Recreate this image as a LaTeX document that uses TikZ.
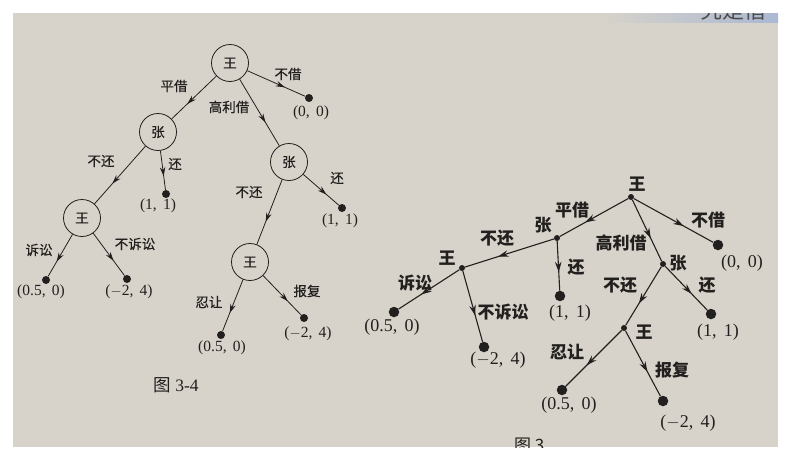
\documentclass[tikz,border=0pt]{standalone}
\usepackage{fontspec}
\setmainfont{Liberation Serif}
\newfontfamily\cjk{Noto Sans CJK SC}
\newfontfamily\cjkm[FakeBold=0.4]{Noto Sans CJK SC}
\usetikzlibrary{arrows.meta,decorations.markings}

\definecolor{paper}{RGB}{216,211,202}
\definecolor{ink}{RGB}{34,32,31}
\definecolor{band}{RGB}{170,184,210}

\newcommand{\sep}{,\hspace{0.4em}}

\begin{document}
\begin{tikzpicture}[x=1pt,y=-1pt,
	player/.style={circle, draw=ink, line width=0.8pt, minimum size=37pt, inner sep=0pt, text=ink, font=\cjkm\fontsize{13.5}{13.5}\selectfont},
	leaf/.style={circle, fill=ink, minimum size=8pt, inner sep=0pt},
	bigleaf/.style={circle, fill=ink, minimum size=10.5pt, inner sep=0pt},
	knot/.style={circle, fill=ink, minimum size=6pt, inner sep=0pt},
	act/.style={text=ink, inner sep=0pt, font=\cjkm\fontsize{13.5}{13.5}\selectfont},
	bigact/.style={text=ink, inner sep=0pt, font=\cjk\bfseries\fontsize{17}{17}\selectfont},
	pay/.style={text=ink, inner sep=0pt, font=\fontsize{15.5}{15.5}\selectfont},
	bigpay/.style={text=ink, inner sep=0pt, font=\fontsize{18}{18}\selectfont},
	choice/.style={draw=ink, line width=0.8pt, postaction={decorate},
		decoration={markings, mark=at position 0.65 with {\arrow[ink]{Stealth[length=9pt,width=5.5pt]}}}},
	bigchoice/.style={draw=ink, line width=1.1pt, postaction={decorate},
		decoration={markings, mark=at position 0.63 with {\arrow[ink]{Stealth[length=10.5pt,width=6.5pt]}}}}
]
	\useasboundingbox (0,0) rectangle (787,469);
	\fill[white] (0,0) rectangle (787,469);
	\fill[paper] (13,13) rectangle (778,447);
	\shade[left color=paper, right color=band] (600,13) rectangle (778,22);
	\begin{scope}
		\clip (13,13) rectangle (778,447);
		\node[anchor=south west, text=ink!80, inner sep=0pt, font=\cjk\fontsize{22}{22}\selectfont] (top) at (700,21) {究是借};
		\node[anchor=north west, text=ink, inner sep=0pt, font=\cjk\fontsize{17}{17}\selectfont] (cap2) at (514,438) {图 3};
	\end{scope}

	% figure 3-4
	\node[player] (w1) at (230,63) {王};
	\node[player] (z1) at (158,132) {张};
	\node[player] (z2) at (289,162) {张};
	\node[player] (w2) at (82,218) {王};
	\node[player] (w3) at (250,262) {王};

	\node[leaf] (t1) at (309,98) {};
	\node[leaf] (t2) at (166,194) {};
	\node[leaf] (t3) at (342,208) {};
	\node[leaf] (t4) at (46,280) {};
	\node[leaf] (t5) at (127,279) {};
	\node[leaf] (t6) at (221,335) {};
	\node[leaf] (t7) at (304,318) {};

	\draw[choice] (w1) -- (z1);
	\draw[choice] (w1) -- (z2);
	\draw[choice] (w1) -- (t1);
	\draw[choice] (z1) -- (w2);
	\draw[choice] (z1) -- (t2);
	\draw[choice] (z2) -- (w3);
	\draw[choice] (z2) -- (t3);
	\draw[choice] (w2) -- (t4);
	\draw[choice] (w2) -- (t5);
	\draw[choice] (w3) -- (t6);
	\draw[choice] (w3) -- (t7);

	\node[act] (a1) at (174,86) {平借};
	\node[act] (a2) at (229,107) {高利借};
	\node[act] (a3) at (288,74) {不借};
	\node[act] (a4) at (101,161) {不还};
	\node[act] (a5) at (175,164) {还};
	\node[act] (a6) at (249,192) {不还};
	\node[act] (a7) at (337,178) {还};
	\node[act] (a8) at (39,250) {诉讼};
	\node[act] (a9) at (135,244) {不诉讼};
	\node[act] (a10) at (209,302) {忍让};
	\node[act] (a11) at (307,291) {报复};

	\node[pay] (p1) at (311,113) {(0\sep 0)};
	\node[pay] (p2) at (158,206) {(1\sep 1)};
	\node[pay] (p3) at (340,221) {(1\sep 1)};
	\node[pay] (p4) at (41,292) {(0.5\sep 0)};
	\node[pay] (p5) at (129,292) {($-$2\sep 4)};
	\node[pay] (p6) at (222,348) {(0.5\sep 0)};
	\node[pay] (p7) at (308,334) {($-$2\sep 4)};

	\node[text=ink, font=\fontsize{17.5}{17.5}\selectfont] (cap1) at (176,385) {{\cjk 图} 3-4};

	% figure 3-5
	\node[knot] (W1) at (631,197) {};
	\node[knot] (Z1) at (557,238) {};
	\node[knot] (Z2) at (663,264) {};
	\node[knot] (W2) at (462,268) {};
	\node[knot] (W3) at (624,328) {};

	\node[bigleaf] (T1) at (718,245) {};
	\node[bigleaf] (T2) at (560,296) {};
	\node[bigleaf] (T3) at (711,314) {};
	\node[bigleaf] (T4) at (394,312) {};
	\node[bigleaf] (T5) at (484,347) {};
	\node[bigleaf] (T6) at (562,390) {};
	\node[bigleaf] (T7) at (663,401) {};

	\draw[bigchoice] (W1) -- (Z1);
	\draw[bigchoice] (W1) -- (Z2);
	\draw[bigchoice] (W1) -- (T1);
	\draw[bigchoice] (Z1) -- (W2);
	\draw[bigchoice] (Z1) -- (T2);
	\draw[bigchoice] (Z2) -- (W3);
	\draw[bigchoice] (Z2) -- (T3);
	\draw[bigchoice] (W2) -- (T4);
	\draw[bigchoice] (W2) -- (T5);
	\draw[bigchoice] (W3) -- (T6);
	\draw[bigchoice] (W3) -- (T7);

	\node[bigact] (n1) at (637,184) {王};
	\node[bigact] (n2) at (543,225) {张};
	\node[bigact] (n3) at (678,263) {张};
	\node[bigact] (n4) at (447,258) {王};
	\node[bigact] (n5) at (644,332) {王};

	\node[bigact] (b1) at (572,210) {平借};
	\node[bigact] (b2) at (621,243) {高利借};
	\node[bigact] (b3) at (708,220) {不借};
	\node[bigact] (b4) at (497,238) {不还};
	\node[bigact] (b5) at (576,267) {还};
	\node[bigact] (b6) at (620,285) {不还};
	\node[bigact] (b7) at (707,285) {还};
	\node[bigact] (b8) at (415,283) {诉讼};
	\node[bigact] (b9) at (503,312) {不诉讼};
	\node[bigact] (b10) at (567,352) {忍让};
	\node[bigact] (b11) at (672,370) {报复};

	\node[bigpay] (q1) at (742,263) {(0\sep 0)};
	\node[bigpay] (q2) at (570,313) {(1\sep 1)};
	\node[bigpay] (q3) at (718,332) {(1\sep 1)};
	\node[bigpay] (q4) at (392,327) {(0.5\sep 0)};
	\node[bigpay] (q5) at (498,360) {($-$2\sep 4)};
	\node[bigpay] (q6) at (569,405) {(0.5\sep 0)};
	\node[bigpay] (q7) at (688,423) {($-$2\sep 4)};
\end{tikzpicture}
\end{document}
